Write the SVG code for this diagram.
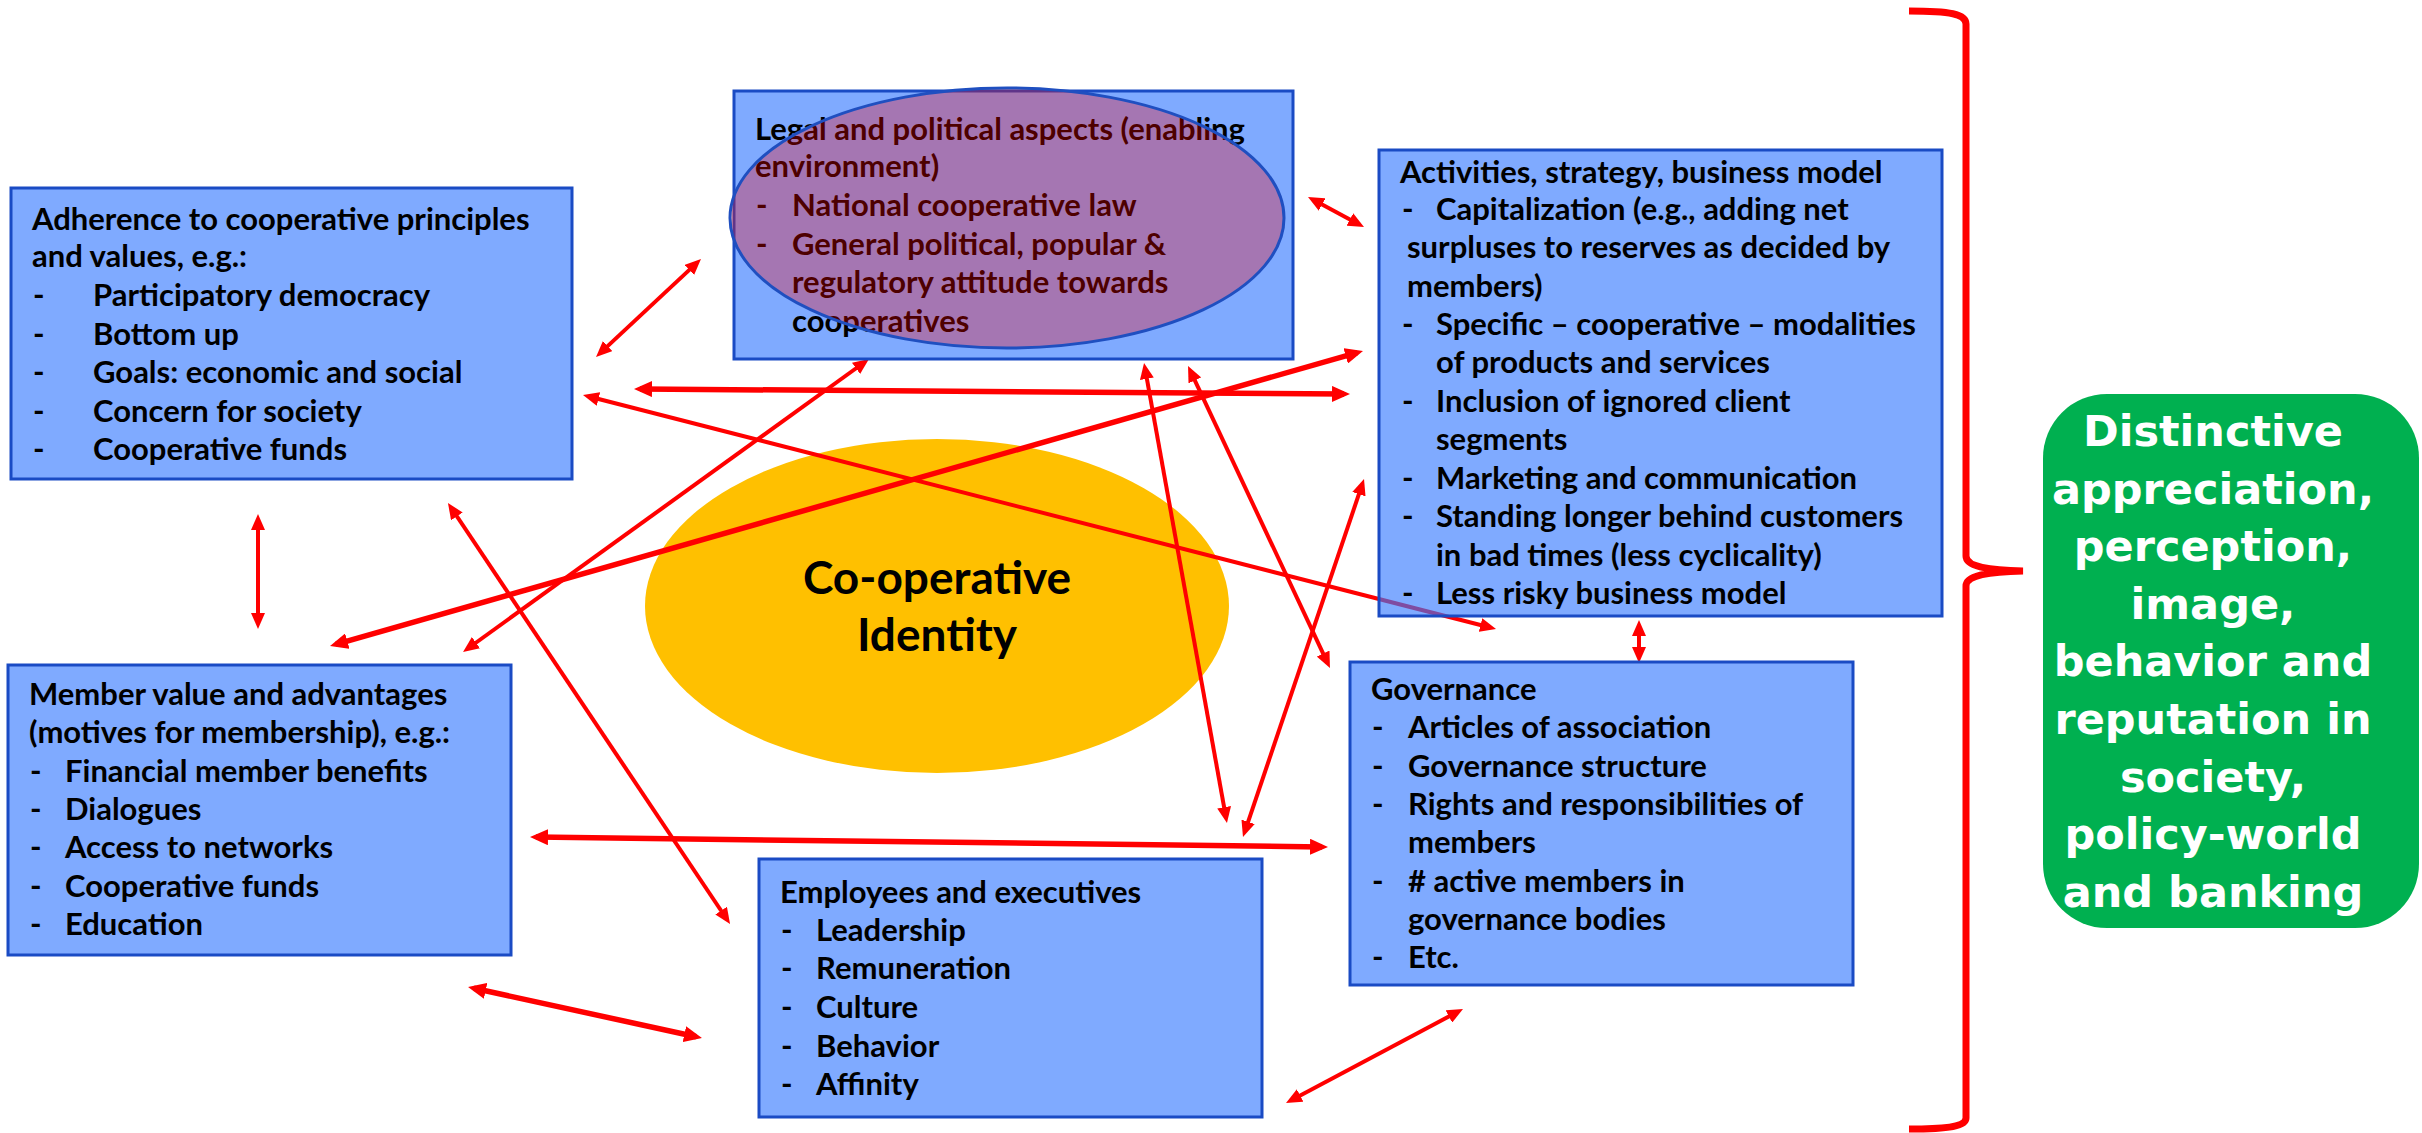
<svg xmlns="http://www.w3.org/2000/svg" width="2422" height="1133" viewBox="0 0 2422 1133">
  <style>
    .box { fill: rgb(53,120,255); fill-opacity: 0.63; stroke: #1A4BC4; stroke-width: 3; }
    .t { font-family: Lato, "Open Sans", "Liberation Sans", sans-serif; font-weight: 700; font-size: 31px; fill: #000; }
    .conn { stroke: #FF0000; fill: none; stroke-width: 4; marker-start: url(#ah); marker-end: url(#ah); }
    .thick { stroke-width: 5.5; marker-start: url(#ahb); marker-end: url(#ahb); }
    .core { font-family: Lato, "Open Sans", "Liberation Sans", sans-serif; font-weight: 700; font-size: 46px; fill: #000; text-anchor: middle; }
    .out { font-family: "DejaVu Sans", Verdana, sans-serif; font-weight: 700; font-size: 43px; fill: #FFFFFF; text-anchor: middle; }
  </style>
  <defs>
    <marker id="ah" viewBox="0 0 16 14" refX="10" refY="7" markerWidth="16" markerHeight="14" markerUnits="userSpaceOnUse" orient="auto-start-reverse">
      <path d="M0,0 L16,7 L0,14 z" fill="#FF0000"/>
    </marker>
    <marker id="ahb" viewBox="0 0 18 16" refX="12" refY="8" markerWidth="18" markerHeight="16" markerUnits="userSpaceOnUse" orient="auto-start-reverse">
      <path d="M0,0 L18,8 L0,16 z" fill="#FF0000"/>
    </marker>
  </defs>

  <rect x="0" y="0" width="2422" height="1133" fill="#FFFFFF"/>

  <!-- central identity ellipse -->
  <g id="identity">
    <ellipse cx="937" cy="606" rx="292" ry="167" fill="#FFC000"/>
    <text class="core" x="937" y="594">Co-operative</text>
    <text class="core" x="937" y="651">Identity</text>
  </g>

  <!-- two-headed connectors between the blocks -->
  <g id="connectors">
    <path class="conn" d="M600.4,352.9 L696.6,263.1"/>
    <path class="conn thick" d="M640,389 L1344,394"/>
    <path class="conn" d="M588.8,396.5 L1490.2,627.5"/>
    <path class="conn thick" d="M335.8,644.4 L1357.2,352.6"/>
    <path class="conn" d="M467.9,648.5 L864.1,362.5"/>
    <path class="conn" d="M1145.1,368.9 L1225.9,817.1"/>
    <path class="conn" d="M1190.6,371.4 L1327.4,662.6"/>
    <path class="conn" d="M1362.1,484.7 L1244.9,831.3"/>
    <path class="conn thick" d="M536,837.1 L1322,846.9"/>
    <path class="conn" d="M451.3,508 L726.7,919"/>
    <path class="conn thick" d="M473.9,988.3 L696.1,1036.7"/>
    <path class="conn" d="M1291.3,1100.2 L1457.7,1011.8"/>
    <path class="conn" d="M258,520 L258,623"/>
    <path class="conn" d="M1639,626 L1639,657"/>
    <path class="conn" d="M1313.3,199.8 L1358.7,224.2"/>
  </g>

  <g id="principles">
    <rect class="box" x="11" y="188" width="561" height="291"/>
    <text class="t" x="32" y="230">Adherence to cooperative principles</text>
    <text class="t" x="32" y="267">and values, e.g.:</text>
    <text class="t" x="33" y="306">-</text><text class="t" x="93" y="306">Participatory democracy</text>
    <text class="t" x="33" y="345">-</text><text class="t" x="93" y="345">Bottom up</text>
    <text class="t" x="33" y="383">-</text><text class="t" x="93" y="383">Goals: economic and social</text>
    <text class="t" x="33" y="422">-</text><text class="t" x="93" y="422">Concern for society</text>
    <text class="t" x="33" y="460">-</text><text class="t" x="93" y="460">Cooperative funds</text>
  </g>

  <g id="legal">
    <rect class="box" x="734" y="91" width="559" height="268"/>
    <text class="t" x="755" y="140">Legal and political aspects (enabling</text>
    <text class="t" x="755" y="177">environment)</text>
    <text class="t" x="756" y="216">-</text><text class="t" x="792" y="216">National cooperative law</text>
    <text class="t" x="756" y="255">-</text><text class="t" x="792" y="255">General political, popular &amp;</text>
    <text class="t" x="792" y="293">regulatory attitude towards</text>
    <text class="t" x="792" y="332">cooperatives</text>
    <ellipse cx="1007" cy="218" rx="277" ry="130" fill="#FF0000" fill-opacity="0.3" stroke="#1F4FC0" stroke-width="3"/>
  </g>

  <g id="activities">
    <rect class="box" x="1379" y="150" width="563" height="466"/>
    <text class="t" x="1400" y="183">Activities, strategy, business model</text>
    <text class="t" x="1402" y="220">-</text><text class="t" x="1436" y="220">Capitalization (e.g., adding net</text>
    <text class="t" x="1407" y="258">surpluses to reserves as decided by</text>
    <text class="t" x="1407" y="297">members)</text>
    <text class="t" x="1402" y="335">-</text><text class="t" x="1436" y="335">Specific – cooperative – modalities</text>
    <text class="t" x="1436" y="373">of products and services</text>
    <text class="t" x="1402" y="412">-</text><text class="t" x="1436" y="412">Inclusion of ignored client</text>
    <text class="t" x="1436" y="450">segments</text>
    <text class="t" x="1402" y="489">-</text><text class="t" x="1436" y="489">Marketing and communication</text>
    <text class="t" x="1402" y="527">-</text><text class="t" x="1436" y="527">Standing longer behind customers</text>
    <text class="t" x="1436" y="566">in bad times (less cyclicality)</text>
    <text class="t" x="1402" y="604">-</text><text class="t" x="1436" y="604">Less risky business model</text>
  </g>

  <g id="members">
    <rect class="box" x="8" y="665" width="503" height="290"/>
    <text class="t" x="29" y="705">Member value and advantages</text>
    <text class="t" x="29" y="743">(motives for membership), e.g.:</text>
    <text class="t" x="30" y="782">-</text><text class="t" x="65" y="782">Financial member benefits</text>
    <text class="t" x="30" y="820">-</text><text class="t" x="65" y="820">Dialogues</text>
    <text class="t" x="30" y="858">-</text><text class="t" x="65" y="858">Access to networks</text>
    <text class="t" x="30" y="897">-</text><text class="t" x="65" y="897">Cooperative funds</text>
    <text class="t" x="30" y="935">-</text><text class="t" x="65" y="935">Education</text>
  </g>

  <g id="employees">
    <rect class="box" x="759" y="859" width="503" height="258"/>
    <text class="t" x="780" y="903">Employees and executives</text>
    <text class="t" x="781" y="941">-</text><text class="t" x="816" y="941">Leadership</text>
    <text class="t" x="781" y="979">-</text><text class="t" x="816" y="979">Remuneration</text>
    <text class="t" x="781" y="1018">-</text><text class="t" x="816" y="1018">Culture</text>
    <text class="t" x="781" y="1057">-</text><text class="t" x="816" y="1057">Behavior</text>
    <text class="t" x="781" y="1095">-</text><text class="t" x="816" y="1095">Affinity</text>
  </g>

  <g id="governance">
    <rect class="box" x="1350" y="662" width="503" height="323"/>
    <text class="t" x="1371" y="700">Governance</text>
    <text class="t" x="1372" y="738">-</text><text class="t" x="1408" y="738">Articles of association</text>
    <text class="t" x="1372" y="777">-</text><text class="t" x="1408" y="777">Governance structure</text>
    <text class="t" x="1372" y="815">-</text><text class="t" x="1408" y="815">Rights and responsibilities of</text>
    <text class="t" x="1408" y="853">members</text>
    <text class="t" x="1372" y="892">-</text><text class="t" x="1408" y="892"># active members in</text>
    <text class="t" x="1408" y="930">governance bodies</text>
    <text class="t" x="1372" y="968">-</text><text class="t" x="1408" y="968">Etc.</text>
  </g>

  <!-- brace gathering all blocks -->
  <g id="brace">
    <path d="M1909,11 C1950,11 1966,14 1966,24 L1966,556 C1966,566 1985,570 2023,571 C1985,572 1966,576 1966,586 L1966,1118 C1966,1126 1950,1129 1909,1129" fill="none" stroke="#FF0000" stroke-width="7"/>
  </g>

  <g id="outcome">
    <rect x="2043" y="394" width="376" height="534" rx="64" ry="64" fill="#00B050"/>
    <text class="out" x="2213" y="446">Distinctive</text>
    <text class="out" x="2213" y="504">appreciation,</text>
    <text class="out" x="2213" y="561">perception,</text>
    <text class="out" x="2213" y="619">image,</text>
    <text class="out" x="2213" y="676">behavior and</text>
    <text class="out" x="2213" y="734">reputation in</text>
    <text class="out" x="2213" y="792">society,</text>
    <text class="out" x="2213" y="849">policy-world</text>
    <text class="out" x="2213" y="907">and banking</text>
  </g>
</svg>
